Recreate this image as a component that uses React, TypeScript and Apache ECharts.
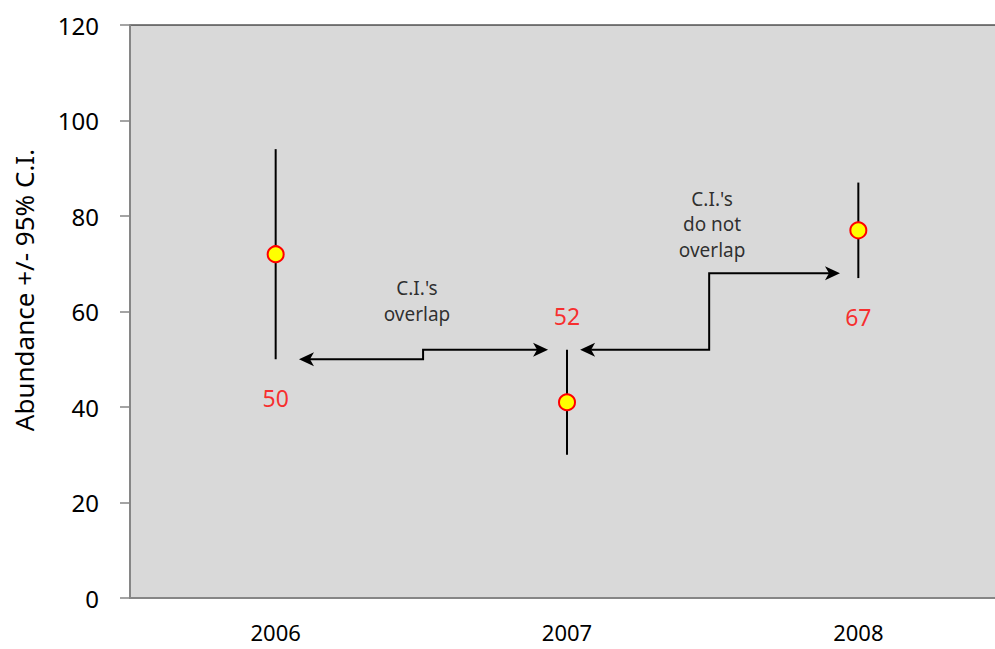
import { useEffect, useRef } from "react";
import * as echarts from "echarts";

const FONT = "'Noto Sans', 'DejaVu Sans', sans-serif";

// Abundance estimates with their 95% confidence limits
const years = ["2006", "2007", "2008"];
const means = [72, 41, 77];
const lowerCI = [50, 30, 67];
const upperCI = [94, 52, 87];

// value axis ticks
const yMin = 0;
const yMax = 120;
const yStep = 20;

// which confidence limit of which year gets a red value label
const boundLabels: { year: number; bound: "lower" | "upper" }[] = [
  { year: 0, bound: "lower" },
  { year: 1, bound: "upper" },
  { year: 2, bound: "lower" },
];

// comparison arrows in (year position, abundance) space; x runs 0..3 across the three years
const arrowRoutes: number[][][] = [
  [[0.58, 50], [1.006, 50], [1.006, 52], [1.435, 52]],
  [[1.545, 52], [1.988, 52], [1.988, 68], [2.437, 68]],
];
const arrowNotes = [
  { text: "C.I.'s\noverlap", at: [0.985, 62.2] },
  { text: "C.I.'s\ndo not\noverlap", at: [1.998, 78.3] },
];

const AXIS_GREY = "#868686";

// stealth-style arrowhead pointing from `from` toward `tip`
function arrowHead(tip: number[], from: number[]) {
  const dx = tip[0] - from[0];
  const dy = tip[1] - from[1];
  const len = Math.hypot(dx, dy) || 1;
  const ux = dx / len;
  const uy = dy / len;
  const px = -uy;
  const py = ux;
  const L = 15;
  const W = 7;
  const N = 4;
  return [
    [tip[0], tip[1]],
    [tip[0] - ux * L + px * W, tip[1] - uy * L + py * W],
    [tip[0] - ux * (L - N), tip[1] - uy * (L - N)],
    [tip[0] - ux * L - px * W, tip[1] - uy * L - py * W],
  ];
}

function pullBack(tip: number[], from: number[], d: number) {
  const dx = tip[0] - from[0];
  const dy = tip[1] - from[1];
  const len = Math.hypot(dx, dy) || 1;
  return [tip[0] - (dx / len) * d, tip[1] - (dy / len) * d];
}

export default function App() {
  const ref = useRef<HTMLDivElement>(null);

  useEffect(() => {
    if (!ref.current) return;
    const chart = echarts.init(ref.current, undefined, { renderer: "svg" });

    const option: any = {
      animation: false,
      grid: {
        left: 130,
        top: 25,
        right: -9,
        bottom: 51,
        containLabel: false,
        outerBoundsMode: "none",
        show: true,
        backgroundColor: "#D9D9D9",
        borderColor: "#000",
        borderWidth: 1,
      },
      graphic: [
        {
          type: "text",
          x: 24,
          y: 290,
          rotation: Math.PI / 2,
          style: {
            text: "Abundance +/- 95% C.I.",
            fill: "#000",
            fontSize: 26,
            fontFamily: FONT,
            align: "center",
            verticalAlign: "middle",
          },
        },
      ],
      xAxis: [
        {
          type: "category",
          data: years,
          boundaryGap: true,
          axisLine: { lineStyle: { color: AXIS_GREY, width: 2 } },
          axisTick: { length: 9, lineStyle: { color: AXIS_GREY, width: 1.5 } },
          axisLabel: {
            color: "#000",
            fontSize: 22,
            lineHeight: 20,
            fontFamily: FONT,
            margin: 24,
          },
          splitLine: { show: false },
        },
        { type: "value", min: 0, max: 3, show: false },
      ],
      yAxis: {
        type: "value",
        min: yMin,
        max: yMax,
        interval: yStep,
        axisLine: { show: true, lineStyle: { color: AXIS_GREY, width: 2 } },
        axisTick: { show: true, length: 10, lineStyle: { color: AXIS_GREY, width: 1.5 } },
        axisLabel: { color: "#000", fontSize: 24, fontFamily: FONT, margin: 31 },
        splitLine: { show: false },
      },
      series: [
        {
          // confidence interval whiskers
          type: "custom",
          xAxisIndex: 0,
          z: 2,
          data: years.map((_, i) => [i, lowerCI[i], upperCI[i]]),
          renderItem: (_params: any, api: any) => {
            const lo = api.coord([api.value(0), api.value(1)]);
            const hi = api.coord([api.value(0), api.value(2)]);
            return {
              type: "line",
              shape: { x1: lo[0], y1: lo[1], x2: hi[0], y2: hi[1] },
              style: { stroke: "#000", lineWidth: 2 },
            };
          },
        },
        {
          // abundance estimates
          type: "scatter",
          xAxisIndex: 0,
          z: 4,
          symbol: "circle",
          symbolSize: 16,
          itemStyle: { color: "#FFFF00", borderColor: "#FF0000", borderWidth: 2, opacity: 1 },
          data: years.map((_, i) => [i, means[i]]),
        },
        {
          // red labels on the compared limits
          type: "scatter",
          xAxisIndex: 0,
          z: 5,
          symbolSize: 1,
          itemStyle: { color: "rgba(0,0,0,0)" },
          silent: true,
          data: boundLabels.map((b) => {
            const v = b.bound === "lower" ? lowerCI[b.year] : upperCI[b.year];
            return {
              value: [b.year, v],
              label: {
                show: true,
                position: b.bound === "lower" ? "bottom" : "top",
                distance: b.bound === "lower" ? 27 : 22,
                formatter: String(v),
                color: "#FF0000",
                fontSize: 23,
                lineHeight: 23,
                fontFamily: FONT,
              },
            };
          }),
        },
        {
          // comparison arrows
          type: "custom",
          xAxisIndex: 1,
          z: 3,
          data: arrowRoutes.map((r, i) => [r[0][0], r[0][1], i]),
          renderItem: (params: any, api: any) => {
            const route = arrowRoutes[params.dataIndex];
            const pts = route.map((p) => api.coord(p));
            const n = pts.length;
            const startHead = arrowHead(pts[0], pts[1]);
            const endHead = arrowHead(pts[n - 1], pts[n - 2]);
            const linePts = pts.slice();
            linePts[0] = pullBack(pts[0], pts[1], 11);
            linePts[n - 1] = pullBack(pts[n - 1], pts[n - 2], 11);
            return {
              type: "group",
              children: [
                {
                  type: "polyline",
                  shape: { points: linePts },
                  style: { stroke: "#000", lineWidth: 2, fill: null },
                },
                {
                  type: "polygon",
                  shape: { points: startHead },
                  style: { fill: "#000", stroke: null },
                },
                {
                  type: "polygon",
                  shape: { points: endHead },
                  style: { fill: "#000", stroke: null },
                },
              ],
            };
          },
        },
        {
          // arrow captions
          type: "scatter",
          xAxisIndex: 1,
          z: 5,
          symbolSize: 1,
          itemStyle: { color: "rgba(0,0,0,0)" },
          silent: true,
          data: arrowNotes.map((n) => ({
            value: n.at,
            label: {
              show: true,
              position: "inside",
              formatter: n.text,
              color: "#000",
              fontSize: 19,
              lineHeight: 25.5,
              fontFamily: FONT,
              align: "center",
              verticalAlign: "middle",
            },
          })),
        },
      ],
    };

    chart.setOption(option);
    return () => chart.dispose();
  }, []);

  return (
    <div
      ref={ref}
      style={{ position: "fixed", left: 0, top: 0, width: 995, height: 649, background: "#fff" }}
    />
  );
}
